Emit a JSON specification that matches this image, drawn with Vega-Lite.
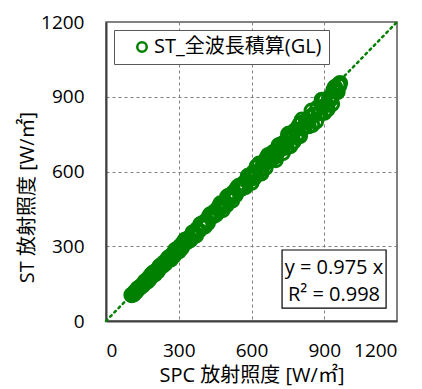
{
  "$schema": "https://vega.github.io/schema/vega-lite/v6.json",
  "width": 291,
  "height": 299,
  "autosize": {"type": "none"},
  "padding": {"left": 106, "top": 22, "right": 25, "bottom": 68},
  "background": "white",
  "config": {
    "view": {"stroke": "#595959", "strokeWidth": 1.5},
    "axis": {
      "labelFont": "Open Sans",
      "labelFontSize": 19,
      "labelColor": "#000000",
      "titleFont": "Open Sans, Noto Sans CJK JP",
      "titleFontSize": 20,
      "titleFontWeight": "normal",
      "titleColor": "#000000",
      "grid": true,
      "gridColor": "#7f7f7f",
      "gridDash": [3, 3],
      "gridWidth": 1,
      "domainColor": "#404040",
      "domainWidth": 2,
      "ticks": false,
      "format": "d"
    }
  },
  "layer": [
    {
      "data": {"values": [{"x": 0, "y": 0}, {"x": 1200, "y": 1200}]},
      "mark": {"type": "line", "color": "#008000", "strokeWidth": 2.5, "strokeDash": [2, 4], "strokeCap": "round"},
      "encoding": {
        "x": {"field": "x", "type": "quantitative", "scale": {"domain": [0, 1200], "nice": false},
          "axis": {"values": [0, 300, 600, 900, 1200], "title": "SPC 放射照度 [W/㎡]", "labelPadding": 20, "titlePadding": 5}},
        "y": {"field": "y", "type": "quantitative", "scale": {"domain": [0, 1200], "nice": false},
          "axis": {"values": [0, 300, 600, 900, 1200], "title": "ST 放射照度 [W/㎡]", "labelPadding": 22, "titlePadding": 3, "titleY": 175, "titleAlign": "center", "titleAngle": 270}}
      }
    },
    {
      "data": {"values": [
        {"x":105,"y":104},{"x":112,"y":108},{"x":118,"y":116},{"x":125,"y":118},{"x":131,"y":130},{"x":138,"y":132},{"x":146,"y":142},{"x":153,"y":143},{"x":160,"y":159},{"x":168,"y":162},
        {"x":175,"y":172},{"x":183,"y":173},{"x":190,"y":188},{"x":198,"y":189},{"x":206,"y":201},{"x":214,"y":200},{"x":222,"y":221},{"x":230,"y":221},{"x":238,"y":234},{"x":246,"y":232},
        {"x":255,"y":252},{"x":263,"y":251},{"x":271,"y":264},{"x":280,"y":262},{"x":288,"y":287},{"x":297,"y":286},{"x":305,"y":300},{"x":314,"y":297},{"x":322,"y":319},{"x":331,"y":316},
        {"x":340,"y":332},{"x":348,"y":325},{"x":357,"y":355},{"x":366,"y":352},{"x":375,"y":368},{"x":384,"y":363},{"x":393,"y":389},{"x":402,"y":384},{"x":411,"y":401},{"x":420,"y":393},
        {"x":430,"y":428},{"x":439,"y":422},{"x":448,"y":440},{"x":458,"y":433},{"x":467,"y":462},{"x":477,"y":456},{"x":486,"y":474},{"x":496,"y":464},{"x":505,"y":502},{"x":515,"y":495},
        {"x":525,"y":516},{"x":535,"y":506},{"x":545,"y":540},{"x":555,"y":530},{"x":565,"y":551},{"x":575,"y":538},{"x":585,"y":582},{"x":595,"y":572},{"x":606,"y":595},{"x":616,"y":582},
        {"x":627,"y":621},{"x":637,"y":608},{"x":648,"y":632},{"x":658,"y":615},{"x":669,"y":666},{"x":680,"y":654},{"x":690,"y":678},{"x":701,"y":662},{"x":712,"y":705},{"x":723,"y":690},
        {"x":734,"y":716},{"x":745,"y":697},{"x":756,"y":752},{"x":768,"y":739},{"x":779,"y":765},{"x":790,"y":747},{"x":802,"y":794},{"x":813,"y":776},{"x":825,"y":804},{"x":836,"y":782},
        {"x":848,"y":844},{"x":860,"y":827},{"x":872,"y":856},{"x":884,"y":835},{"x":896,"y":887},{"x":908,"y":867},{"x":920,"y":897},{"x":932,"y":871},{"x":944,"y":939},{"x":955,"y":919},
        {"x":962,"y":945},
        {"x":108,"y":105},{"x":121,"y":115},{"x":135,"y":133},{"x":150,"y":144},{"x":164,"y":160},{"x":179,"y":168},{"x":194,"y":194},{"x":210,"y":203},{"x":226,"y":219},{"x":242,"y":230},
        {"x":259,"y":255},{"x":276,"y":265},{"x":293,"y":286},{"x":310,"y":291},{"x":327,"y":327},{"x":344,"y":332},{"x":362,"y":351},{"x":380,"y":361},{"x":398,"y":392},{"x":416,"y":399},
        {"x":434,"y":423},{"x":453,"y":426},{"x":472,"y":472},{"x":491,"y":474},{"x":510,"y":495},{"x":530,"y":504},{"x":550,"y":542},{"x":570,"y":547},{"x":590,"y":575},{"x":611,"y":574},
        {"x":632,"y":632},{"x":653,"y":630},{"x":674,"y":654},{"x":696,"y":661},{"x":718,"y":707},{"x":740,"y":710},{"x":762,"y":743},{"x":785,"y":738},{"x":808,"y":808},{"x":831,"y":802},
        {"x":854,"y":828},{"x":878,"y":834},{"x":902,"y":888},{"x":926,"y":889},{"x":950,"y":926},{"x":958,"y":948},{"x":965,"y":955},
        {"x":115,"y":107},{"x":128,"y":126},{"x":142,"y":135},{"x":157,"y":152},{"x":171,"y":158},{"x":186,"y":186},{"x":202,"y":188},{"x":218,"y":215},{"x":234,"y":222},{"x":250,"y":243},
        {"x":267,"y":247},{"x":284,"y":283},{"x":301,"y":280},{"x":318,"y":314},{"x":335,"y":318},{"x":353,"y":342},{"x":371,"y":343},{"x":389,"y":388},{"x":407,"y":379},{"x":425,"y":420},
        {"x":443,"y":421},{"x":462,"y":448},{"x":481,"y":445},{"x":500,"y":499},{"x":520,"y":484},{"x":540,"y":534},{"x":560,"y":532},{"x":580,"y":563},{"x":600,"y":555},{"x":621,"y":620},
        {"x":642,"y":597},{"x":663,"y":655},{"x":685,"y":651},{"x":707,"y":686},{"x":729,"y":674},{"x":751,"y":750},{"x":773,"y":719},{"x":796,"y":786},{"x":819,"y":778},{"x":842,"y":817},
        {"x":866,"y":801},{"x":890,"y":888},{"x":914,"y":850},{"x":938,"y":927},
        {"x":640,"y":592},{"x":700,"y":646},{"x":760,"y":702},{"x":850,"y":787},{"x":900,"y":836},{"x":800,"y":742}
      ]},
      "mark": {"type": "point", "shape": "circle", "filled": false, "strokeWidth": 3, "size": 175, "opacity": 1},
      "encoding": {
        "x": {"field": "x", "type": "quantitative"},
        "y": {"field": "y", "type": "quantitative"},
        "color": {
          "datum": "ST_全波長積算(GL)",
          "type": "nominal",
          "scale": {"range": ["#008000"]},
          "legend": {
            "orient": "none", "legendX": 8, "legendY": 8, "title": null,
            "padding": 7, "strokeColor": "#595959", "fillColor": "white",
            "labelFont": "Open Sans, Noto Sans CJK JP", "labelFontSize": 20, "labelColor": "#000000", "labelLimit": 400,
            "symbolType": "circle", "symbolSize": 90, "symbolStrokeWidth": 2.5, "symbolOffset": 11, "labelOffset": 2
          }
        }
      }
    },
    {
      "data": {"values": [{}]},
      "mark": {"type": "rect", "fill": "white", "stroke": "#000000", "strokeWidth": 1.2},
      "encoding": {
        "x": {"datum": 726, "type": "quantitative"},
        "x2": {"datum": 1155},
        "y": {"datum": 52, "type": "quantitative"},
        "y2": {"datum": 285}
      }
    },
    {
      "data": {"values": [{}]},
      "mark": {"type": "text", "text": ["y = 0.975 x", "R² = 0.998"], "font": "Open Sans", "fontSize": 20, "lineHeight": 27, "align": "center", "baseline": "middle", "color": "#000000"},
      "encoding": {
        "x": {"datum": 940, "type": "quantitative"},
        "y": {"datum": 213, "type": "quantitative"}
      }
    }
  ]
}
